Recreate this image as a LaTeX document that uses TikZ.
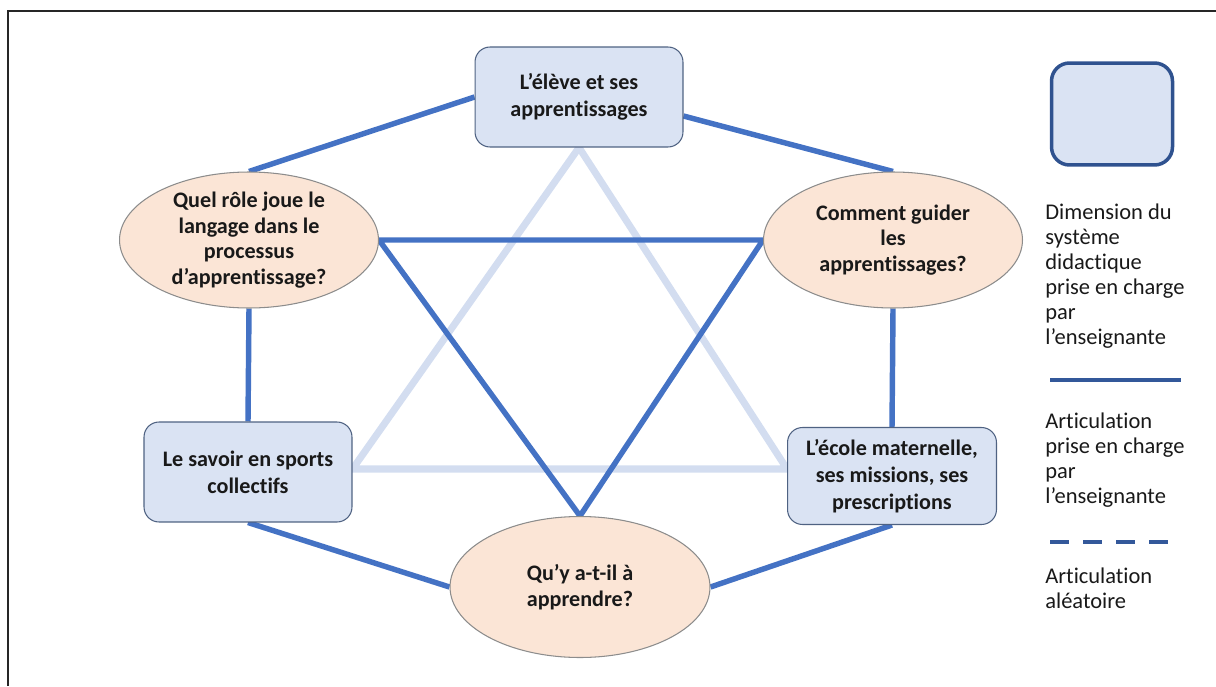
\documentclass[tikz,border=0pt]{standalone}
\usepackage{fontspec}
\setmainfont{Carlito}[Ligatures=NoCommon]
\usepackage{xcolor}
\usepackage{tikz}
\usetikzlibrary{shapes.geometric,calc}
\definecolor{axe}{HTML}{4472C4}
\definecolor{axepale}{HTML}{D3DDF0}
\definecolor{boxfill}{HTML}{DAE3F3}
\definecolor{boxline}{HTML}{4F6282}
\definecolor{ovalfill}{HTML}{FBE5D6}
\definecolor{ovalline}{HTML}{8C8C8C}
\definecolor{legline}{HTML}{2F528F}
\pgfdeclarelayer{bg}
\pgfsetlayers{bg,main}

\begin{document}
\begin{tikzpicture}[
    x=0.02cm, y=-0.02cm,
    every node/.style={font=\fontsize{12.5}{15}\selectfont, text=black!90},
    dimbox/.style={rectangle, rounded corners=0.3cm, draw=boxline, line width=0.6pt,
      fill=boxfill, align=center, inner sep=0pt, font=\fontsize{12.6}{15.5}\selectfont\bfseries,
      minimum width=4.16cm, minimum height=2.0cm},
    question/.style={ellipse, draw=ovalline, line width=0.6pt, fill=ovalfill, align=center,
      inner xsep=0pt, inner ysep=-6pt, font=\fontsize{12.6}{14.5}\selectfont\bfseries,
      minimum width=5.18cm, minimum height=2.72cm},
    legtext/.style={anchor=west, align=left, inner sep=0pt, font=\fontsize{12.8}{14.3}\selectfont},
    link/.style={axe, line width=3.1pt},
    palelink/.style={axepale, line width=4pt},
    frame/.style={black!85, line width=1.4pt},
  ]
  \useasboundingbox (0,0) rectangle (1216,686);
  \draw[frame] (8,686) -- (8,11) -- (1216,11);

  % the six poles
  \node[dimbox]   (eleve)     at (579,97)  {L’élève et ses\\apprentissages};
  \node[question] (langage)   at (249,240) {Quel rôle joue le\\langage dans le\\processus\\d’apprentissage?};
  \node[question] (guider)    at (893,240) {Comment guider\\les\\apprentissages?};
  \node[dimbox]   (savoir)    at (248,472) {Le savoir en sports\\collectifs};
  \node[dimbox, minimum width=4.18cm, minimum height=1.94cm]
                  (ecole)     at (892,476) {L’école maternelle,\\ses missions, ses\\prescriptions};
  \node[question, minimum width=5.2cm, minimum height=2.82cm]
                  (apprendre) at (580,587) {Qu’y a-t-il à\\apprendre?};

  \begin{pgfonlayer}{bg}
    % pale triangle
    \draw[palelink] (eleve.south) -- (savoir.east |- 0,469) -- (ecole.west |- 0,469) -- cycle;

    % dark triangle
    \draw[link, line join=miter] (langage.east) -- (guider.west) -- (apprendre.north) -- cycle;

    % hexagon sides
    \draw[link] (eleve.west) -- (langage.north);
    \draw[link] ([yshift=-0.38cm]eleve.east) -- (guider.north);
    \draw[link] (langage.south) -- (savoir.north);
    \draw[link] (guider.south) -- (ecole.north);
    \draw[link] (savoir.south) -- (apprendre.west);
    \draw[link] (ecole.south) -- (apprendre.east);
  \end{pgfonlayer}

  % legend
  \node[rectangle, rounded corners=0.36cm, draw=legline, line width=2pt, fill=boxfill,
        minimum width=2.42cm, minimum height=2.04cm] (legbox) at (1112,114) {};
  \node[legtext] (legdim) at (1045,276) {Dimension du\\système\\didactique\\prise en charge\\par\\l’enseignante};
  \coordinate (solidA) at (1050,380);
  \coordinate (solidB) at (1181,380);
  \draw[legline!80!axe, line width=2.6pt] (solidA) -- (solidB);
  \node[legtext] (legsolid) at (1045,460) {Articulation\\prise en charge\\par\\l’enseignante};
  \coordinate (dashA) at (1050,542);
  \coordinate (dashB) at (1168,542);
  \draw[legline!80!axe, line width=2.4pt, dash pattern=on 10.8pt off 8pt] (dashA) -- (dashB);
  \node[legtext] (legdash) at (1045,588) {Articulation\\aléatoire};
\end{tikzpicture}
\end{document}
